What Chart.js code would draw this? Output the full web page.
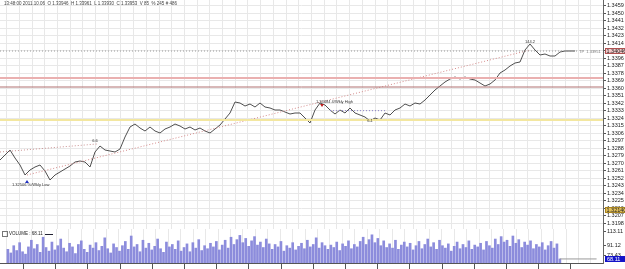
<!DOCTYPE html>
<html>
<head>
<meta charset="utf-8">
<script src="https://cdn.jsdelivr.net/npm/chart.js@4.4.0/dist/chart.umd.min.js"></script>
<style>
  body { margin: 0; background: #fff; }
  #wrap { position: relative; width: 625px; height: 269px; overflow: hidden; font-family: "Liberation Sans", Arial, sans-serif; }
  #cPrice { position: absolute; left: 0; top: 0; }
  #cVol { position: absolute; left: 0; top: 229px; }
  .hdr { position: absolute; left: 4px; top: 1px; font-size: 4.5px; color: #444; white-space: nowrap; }
  .vlab { position: absolute; left: 2px; top: 231px; font-size: 4.5px; color: #222; white-space: nowrap; }
  .vlab i { display: inline-block; width: 4px; height: 4px; border: 1px solid #777; vertical-align: middle; margin-right: 1px; }
  .vlab b { display: inline-block; width: 8px; height: 1px; background: #223; vertical-align: middle; margin-left: 2px; }
</style>
</head>
<body>
<div id="wrap">
  <canvas id="cPrice" width="625" height="229"></canvas>
  <canvas id="cVol" width="625" height="40"></canvas>
  <div class="hdr">13:48:00 2011.10.06&nbsp; O 1.33946&nbsp; H 1.33961&nbsp; L 1.33930&nbsp; C 1.33953&nbsp; V 85&nbsp; % 245 # 486</div>
  <div class="vlab"><i></i>VOLUME : 68.11<b></b></div>
</div>
<script>
// close prices, one every bar
const priceClose = [
  1.32740, 1.32800, 1.32860, 1.32764, 1.32680, 1.32560, 1.32620, 1.32656, 1.32680, 1.32608,
  1.32500, 1.32560, 1.32596, 1.32632, 1.32668, 1.32716, 1.32728, 1.32716, 1.32656, 1.32836,
  1.32908, 1.32860, 1.32848, 1.32836, 1.32872, 1.33016, 1.33136, 1.33172, 1.33124, 1.33088,
  1.33136, 1.33088, 1.33064, 1.33112, 1.33136, 1.33172, 1.33148, 1.33112, 1.33136, 1.33100,
  1.33124, 1.33088, 1.33064, 1.33112, 1.33160, 1.33232, 1.33304, 1.33436, 1.33424, 1.33388,
  1.33412, 1.33376, 1.33424, 1.33376, 1.33364, 1.33340, 1.33340, 1.33316, 1.33292, 1.33304,
  1.33304, 1.33244, 1.33184, 1.33340, 1.33424, 1.33400, 1.33340, 1.33292, 1.33340, 1.33304,
  1.33364, 1.33304, 1.33280, 1.33256, 1.33208, 1.33244, 1.33220, 1.33304, 1.33280, 1.33340,
  1.33364, 1.33412, 1.33388, 1.33424, 1.33412, 1.33460, 1.33520, 1.33580, 1.33628, 1.33676,
  1.33712, 1.33736, 1.33712, 1.33736, 1.33712, 1.33700, 1.33664, 1.33628, 1.33652, 1.33700,
  1.33784, 1.33820, 1.33868, 1.33904, 1.33916, 1.34060, 1.34132, 1.34060, 1.34000, 1.34012,
  1.33988, 1.33988, 1.34036, 1.34048, 1.34048, 1.34048
];

const priceTicks = [
  1.3198, 1.3207, 1.3216, 1.3225, 1.3234, 1.3243, 1.3252, 1.3261, 1.3270, 1.3279,
  1.3288, 1.3297, 1.3306, 1.3315, 1.3324, 1.3333, 1.3342, 1.3351, 1.3360, 1.3369,
  1.3378, 1.3387, 1.3396, 1.3405, 1.3414, 1.3423, 1.3432, 1.3441, 1.3450, 1.3459
];

// tick volume, one every bar (denser than price bars)
const volumeValues = [
  84, 78, 90, 82, 95, 80, 76, 88, 99, 85,
  92, 79, 104, 87, 81, 96, 83, 90, 101, 86,
  80, 94, 88, 77, 92, 98, 84, 79, 91, 86,
  95, 82, 89, 103, 85, 78, 93, 87, 81, 90,
  97, 84, 106, 88, 92, 80, 99, 86, 94, 83,
  89, 101, 85, 79, 96, 88, 92, 84, 98, 81,
  87, 93, 80, 95, 86, 100, 82, 90, 85, 94,
  88, 97, 83, 91, 99, 86, 104, 92, 100, 107,
  95, 102, 89, 98, 105, 91, 96, 87, 101, 93,
  84, 92, 88, 97, 81, 90, 86, 95, 83, 89,
  94, 85, 99, 88, 92, 103, 86, 95, 90, 84,
  91, 87, 96, 82, 93, 89, 98, 85, 92, 88,
  97, 104, 92, 100, 108, 95, 102, 90, 98, 87,
  93, 86, 99, 84, 91, 96, 88, 94, 83, 90,
  97, 85, 92, 101, 88, 95, 84, 99, 90, 86,
  93, 81, 89, 96, 85, 92, 87, 98, 84, 91,
  88, 94, 83, 97, 90, 86, 101, 92, 105, 96,
  99, 89, 106, 94, 100, 87, 96, 91, 98, 85,
  92, 88, 95, 83, 90, 97, 86, 93, 68.11
];
const volumeTicks = [73.43, 91.12, 113.11];

// horizontal levels
const levelPrices = [1.33724, 1.33616, 1.33220];
const levelColors = ['#eab0b0', '#b07070', '#f3e7a0'];
const levelWidths = [2, 1, 2];

// drawn lines (bar index, price)
const trendIdx = [5.4, 106];
const trendPrice = [1.32560, 1.34060];
const leftLineIdx = [0, 19.4];
const leftLinePrice = [1.32836, 1.32932];
const midLineIdx = [66, 77.4];
const midLinePrice = [1.33332, 1.33332];

// object labels
const noteIdx = [2.4, 19, 63.2, 74, 106];
const notePrice = [1.32440, 1.32970, 1.33436, 1.33210, 1.34160];
const noteText = ['1.32506 %/Wkly Low', '6.6', '1.33484 4/Wkly High', '6.1', '144.2'];
const arrowIdx = [5.4, 64.4];
const arrowPrice = [1.32488, 1.33388];

const bidPrice = 1.34048;
const bidLabel = '1.34046';
const askBoxPrice = 1.32140;
const askBoxLabel = '1.32140';
const lastVolume = 68.11;

const X_MAX = 120.6;
const PRICE_MAX = 1.34660;
const PRICE_MIN = 1.31912;
const VOL_X_MAX = 201;

function seg(xs, ys) {
  return xs.map((v, i) => ({ x: v, y: ys[i] }));
}

const priceData = priceClose.map((v, i) => ({ x: i, y: v }));

const datasets = [];
levelPrices.forEach((p, k) => {
  datasets.push({ data: seg([0, X_MAX], [p, p]), borderColor: levelColors[k], borderWidth: levelWidths[k], pointRadius: 0 });
});
datasets.push({ data: seg([0, X_MAX - 5], [bidPrice, bidPrice]), borderColor: '#9a9a9a', borderWidth: 1, borderDash: [1, 2], pointRadius: 0 });
datasets.push({ data: seg(trendIdx, trendPrice), borderColor: '#d48a8a', borderWidth: 1, borderDash: [1, 2], pointRadius: 0 });
datasets.push({ data: seg(leftLineIdx, leftLinePrice), borderColor: '#c99090', borderWidth: 1, borderDash: [1, 2], pointRadius: 0 });
datasets.push({ data: seg(midLineIdx, midLinePrice), borderColor: '#8a80c8', borderWidth: 1, borderDash: [1, 2], pointRadius: 0 });
datasets.push({ data: priceData, borderColor: '#505050', borderWidth: 1, pointRadius: 0, tension: 0 });

const overlay = {
  id: 'overlay',
  afterDatasetsDraw(chart) {
    const { ctx, scales: { x, y } } = chart;
    ctx.save();
    ctx.font = '4px "Liberation Sans"';
    ctx.fillStyle = '#333';
    ctx.textBaseline = 'middle';
    noteText.forEach((t, k) => {
      ctx.textAlign = (t.length > 6) ? 'left' : 'center';
      ctx.fillText(t, x.getPixelForValue(noteIdx[k]), y.getPixelForValue(notePrice[k]));
    });
    // arrows
    const colors = ['#2030c0', '#c02020'];
    arrowIdx.forEach((v, k) => {
      const px = x.getPixelForValue(v), py = y.getPixelForValue(arrowPrice[k]);
      ctx.fillStyle = colors[k];
      ctx.beginPath();
      if (k === 0) { ctx.moveTo(px - 2, py + 2); ctx.lineTo(px + 2, py + 2); ctx.lineTo(px, py - 1); }
      else { ctx.moveTo(px - 2, py - 2); ctx.lineTo(px + 2, py - 2); ctx.lineTo(px, py + 1); }
      ctx.fill();
    });
    ctx.fillStyle = '#777';
    ctx.textAlign = 'left';
    ctx.fillText('TP  1.33951 \u2190', x.getPixelForValue(X_MAX - 4.8), y.getPixelForValue(bidPrice) + 1);
    ctx.restore();
  },
  afterDraw(chart) {
    const { ctx, scales: { y } } = chart;
    const left = y.left + 2;
    ctx.save();
    ctx.font = '5.5px "Liberation Sans"';
    ctx.textBaseline = 'middle';
    ctx.textAlign = 'left';
    const box = (price, label, bg, border, fg) => {
      const py = Math.round(y.getPixelForValue(price));
      ctx.fillStyle = bg;
      ctx.fillRect(left, py - 3, 21, 6);
      ctx.strokeStyle = border;
      ctx.lineWidth = 1;
      ctx.strokeRect(left + 0.5, py - 2.5, 20, 5);
      ctx.fillStyle = fg;
      ctx.fillText(label, left + 1.5, py + 0.5);
    };
    box(bidPrice, bidLabel, '#f2c9c9', '#b05050', '#222');
    box(askBoxPrice, askBoxLabel, '#e2bf5a', '#a88420', '#222');
    ctx.restore();
  }
};

new Chart(document.getElementById('cPrice'), {
  type: 'line',
  data: { datasets: datasets },
  options: {
    responsive: false,
    animation: false,
    events: [],
    layout: { padding: 0 },
    plugins: { legend: { display: false }, tooltip: { enabled: false } },
    scales: {
      x: {
        type: 'linear', min: 0, max: X_MAX,
        afterBuildTicks: s => { s.ticks = []; for (let v = 1.34; v < X_MAX; v += 2.54) s.ticks.push({ value: v }); },
        grid: { color: '#e8e8e8', drawTicks: false },
        ticks: { display: false },
        border: { display: true, color: '#8c8c8c' }
      },
      y: {
        position: 'right', min: PRICE_MIN, max: PRICE_MAX,
        afterBuildTicks: s => { s.ticks = priceTicks.map(v => ({ value: v })); },
        afterFit: s => { s.width = 22; s.paddingTop = 0; s.paddingBottom = 0; },
        ticks: { autoSkip: false, padding: 1, color: '#222', font: { size: 5.5, family: 'Liberation Sans' }, callback: v => v.toFixed(4) },
        grid: { color: '#e8e8e8', tickLength: 3, tickColor: '#555' },
        border: { color: '#666' }
      }
    }
  },
  plugins: [overlay]
});

const volBox = {
  id: 'volBox',
  afterDraw(chart) {
    const { ctx, scales: { y } } = chart;
    const py = Math.round(y.getPixelForValue(lastVolume));
    ctx.save();
    ctx.fillStyle = '#1414c8';
    ctx.fillRect(y.left + 2, py - 3, 21, 6);
    ctx.fillStyle = '#fff';
    ctx.font = '5.5px "Liberation Sans"';
    ctx.textBaseline = 'middle';
    ctx.fillText(lastVolume.toFixed(2), y.left + 4, py + 0.5);
    ctx.restore();
  }
};

new Chart(document.getElementById('cVol'), {
  type: 'bar',
  data: {
    datasets: [
      {
        type: 'line',
        data: seg([volumeValues.length - 0.5, VOL_X_MAX], [lastVolume, lastVolume]),
        borderColor: '#9a9a9a', borderWidth: 1, pointRadius: 0
      },
      {
        data: volumeValues.map((v, i) => ({ x: i + 0.5, y: v })),
        backgroundColor: '#8c8cdc',
        barThickness: 2
      }
    ]
  },
  options: {
    responsive: false,
    animation: false,
    events: [],
    layout: { padding: 0 },
    plugins: { legend: { display: false }, tooltip: { enabled: false } },
    scales: {
      x: {
        type: 'linear', min: 0, max: VOL_X_MAX, position: 'bottom',
        afterBuildTicks: s => { s.ticks = []; for (let v = 6.7; v < 603; v += 12.7) s.ticks.push({ value: v / 3 }); },
        grid: { color: '#e8e8e8', drawTicks: false },
        ticks: { display: false },
        border: { display: false }
      },
      x2: {
        type: 'linear', min: 0, max: VOL_X_MAX, position: 'bottom',
        afterBuildTicks: s => { s.ticks = []; for (let v = 23.3; v < 603; v += 34.2) s.ticks.push({ value: v / 3 }); },
        grid: { drawOnChartArea: false, tickLength: 6, tickColor: '#555' },
        ticks: { display: false },
        border: { display: true, color: '#555' }
      },
      y: {
        position: 'right', min: 61.4, max: 117.6,
        afterBuildTicks: s => { s.ticks = volumeTicks.map(v => ({ value: v })); },
        afterFit: s => { s.width = 22; s.paddingTop = 0; s.paddingBottom = 0; },
        ticks: { autoSkip: false, padding: 1, color: '#222', font: { size: 5.5, family: 'Liberation Sans' }, callback: v => v.toFixed(2) },
        grid: { drawOnChartArea: false, tickLength: 3, tickColor: '#555' },
        border: { color: '#666' }
      }
    }
  },
  plugins: [volBox]
});
</script>
</body>
</html>
